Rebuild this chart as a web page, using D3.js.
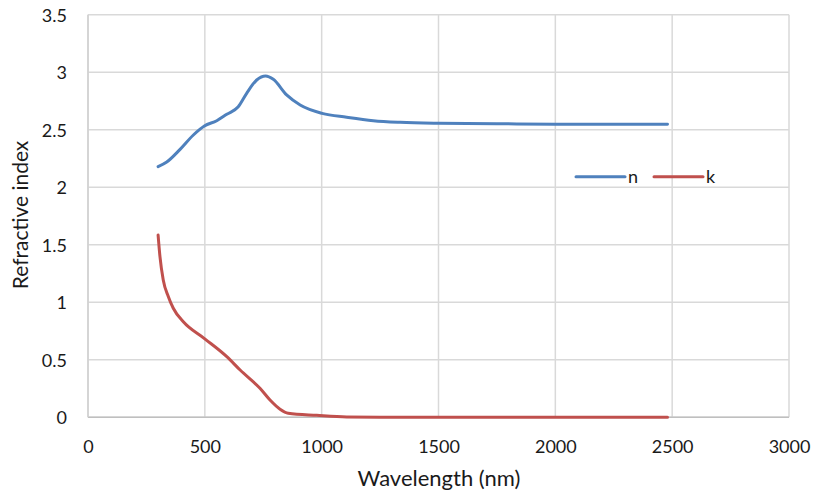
<!DOCTYPE html>
<html><head><meta charset="utf-8">
<script src="https://cdn.jsdelivr.net/npm/d3@7"></script>
<style>body{margin:0;background:#fff}text{font-family:Lato,"Open Sans",sans-serif;fill:#1a1a1a}</style>
</head><body><svg id="c" width="813" height="499"></svg>
<script>
const nWavelength = [300,337,394,451,498,551,594,643,679,722,760,793,850,908,1002,1107,1221,1336,1500,1750,2000,2250,2480];
const nValues     = [2.18,2.22,2.33,2.455,2.533,2.579,2.635,2.70,2.817,2.933,2.968,2.939,2.803,2.716,2.643,2.609,2.579,2.565,2.557,2.553,2.549,2.548,2.549];
const kWavelength = [300,308,322,344,365,408,497,594,651,736,779,822,857,979,1107,1300,1600,2000,2480];
const kValues     = [1.585,1.397,1.194,1.049,0.948,0.831,0.687,0.527,0.411,0.252,0.150,0.070,0.035,0.017,0.003,0,0,0,0];
const xTicks = [0,500,1000,1500,2000,2500,3000];
const yTicks = [0,0.5,1,1.5,2,2.5,3,3.5];
const seriesNames = ["n","k"];
const colors = ["#4f81bd","#c0504d"];

const svg = d3.select("#c");
const L=88,R=789,T=14.8,B=417.3;
const x = d3.scaleLinear().domain([0,3000]).range([L,R]);
const y = d3.scaleLinear().domain([0,3.5]).range([B,T]);

// gridlines
svg.append("g").selectAll("line").data(xTicks).join("line")
  .attr("x1",d=>x(d)).attr("x2",d=>x(d)).attr("y1",T).attr("y2",B)
  .attr("stroke","#d9d9d9").attr("stroke-width",1.5);
svg.append("g").selectAll("line").data(yTicks).join("line")
  .attr("x1",L).attr("x2",R).attr("y1",d=>y(d)).attr("y2",d=>y(d))
  .attr("stroke","#d9d9d9").attr("stroke-width",1.5);
svg.append("line").attr("x1",L).attr("x2",R).attr("y1",B).attr("y2",B).attr("stroke","#bfbfbf").attr("stroke-width",1.5);
svg.append("line").attr("x1",L).attr("x2",L).attr("y1",T).attr("y2",B).attr("stroke","#d0d0d0").attr("stroke-width",1.5);

// axes labels
const xa = d3.axisBottom(x).tickValues(xTicks).tickSize(0).tickPadding(0).tickFormat(d3.format("d"));
const gx = svg.append("g").attr("transform",`translate(0,${B})`).call(xa);
gx.select(".domain").remove();
gx.selectAll("text").attr("dy",0).attr("y",36).style("font-size","18px").style("fill","#1a1a1a");
const ya = d3.axisLeft(y).tickValues(yTicks).tickSize(0).tickPadding(0).tickFormat(d=>String(d));
const gy = svg.append("g").attr("transform",`translate(${L},0)`).call(ya);
gy.select(".domain").remove();
gy.selectAll("text").attr("x",-21).attr("dy","0.35em").style("font-size","18px").style("fill","#1a1a1a");

svg.append("text").attr("x",439).attr("y",486).attr("text-anchor","middle").style("font-size","22px").text("Wavelength (nm)");
svg.append("text").attr("transform","translate(28,215) rotate(-90)").attr("text-anchor","middle").style("font-size","21px").text("Refractive index");

const line = d3.line().x(d=>x(d[0])).y(d=>y(d[1])).curve(d3.curveMonotoneX);
const nData = nWavelength.map((w,i)=>[w,nValues[i]]);
const kData = kWavelength.map((w,i)=>[w,kValues[i]]);
[nData,kData].forEach((dat,i)=>{
  svg.append("path").datum(dat).attr("d",line).attr("fill","none")
    .attr("stroke",colors[i]).attr("stroke-width",3).attr("stroke-linecap","round");
});

// legend
const lg = svg.append("g");
const lx = [576,654];
seriesNames.forEach((s,i)=>{
  lg.append("line").attr("x1",lx[i]).attr("x2",lx[i]+49).attr("y1",176.7).attr("y2",176.7)
    .attr("stroke",colors[i]).attr("stroke-width",3).attr("stroke-linecap","round");
  lg.append("text").attr("x",lx[i]+52).attr("y",183).style("font-size","18px").text(s);
});
</script></body></html>
